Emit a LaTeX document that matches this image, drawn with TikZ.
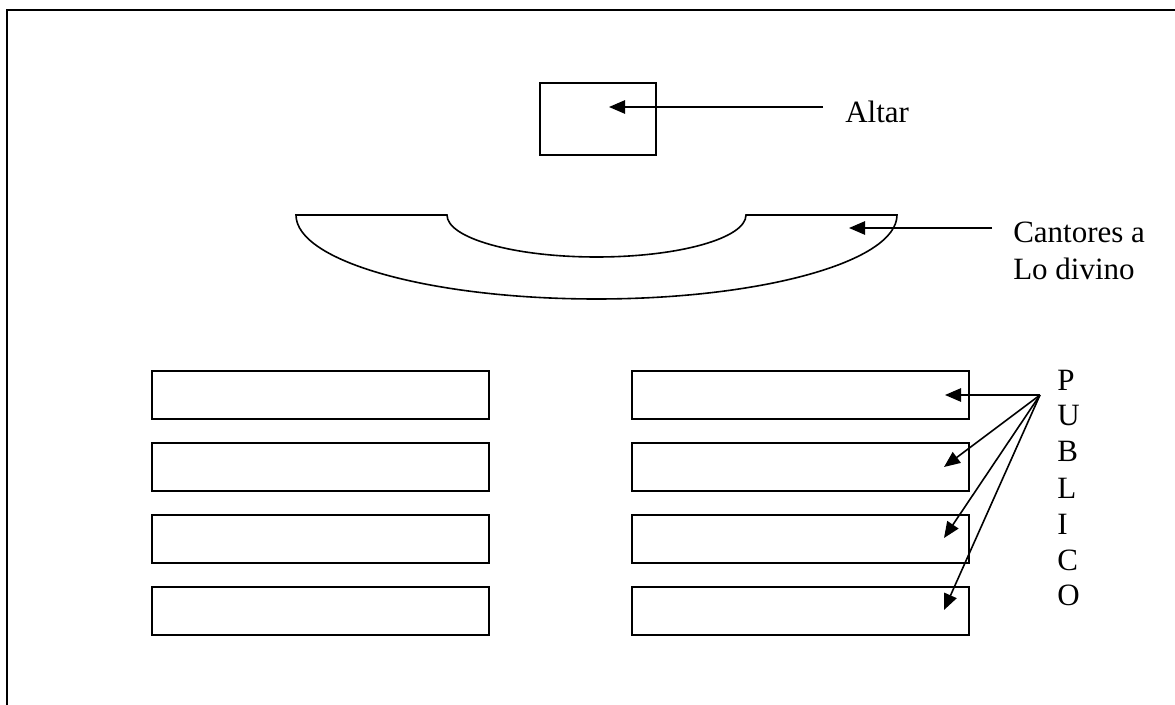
\documentclass[tikz,border=0pt]{standalone}
\usepackage{fontspec}
\setmainfont{Liberation Serif}
\usetikzlibrary{arrows.meta}
% one drawing unit = one pixel of the layout grid
\def\px{0.75pt}
\tikzset{
  frame/.style={line width=1.7pt},
  bench/.style={draw, line width=1.5pt, rectangle, inner sep=0pt,
                minimum width=337*\px, minimum height=48*\px},
  altarbox/.style={draw, line width=1.3pt, rectangle, inner sep=0pt,
                minimum width=116*\px, minimum height=72*\px},
  choir/.style={line width=1.2pt},
  arr/.style={line width=1.2pt, -{Triangle[length=12pt,width=10pt]}},
  lbl/.style={inner sep=0pt, font=\fontsize{23.25pt}{27.75pt}\selectfont},
  vlbl/.style={inner sep=0pt, font=\fontsize{23.25pt}{27pt}\selectfont},
}
\begin{document}
\begin{tikzpicture}[x=0.75pt,y=-0.75pt]
\useasboundingbox (0,0) rectangle (1175,705);
\fill[white] (0,0) rectangle (1175,705);

% outer frame (runs off the right and bottom edges)
\draw[frame] (7,705) -- (7,10) -- (1175,10);

% altar
\node[altarbox] (altar) at (598,119) {};
\coordinate (altartip) at (609,107);
\coordinate (altarsrc) at (823,107);
\node[lbl, anchor=base west] (altarlbl) at (845,123) {Altar};
\draw[arr] (altarsrc) -- (altartip);

% choir stand: flat top with a half-elliptic notch, half-elliptic underside
\draw[choir] (296,215) -- (447,215)
  arc[start angle=180, end angle=0, x radius=149.5, y radius=42]
  -- (897,215)
  arc[start angle=0, end angle=180, x radius=300.5, y radius=84]
  -- cycle;
\coordinate (choirtip) at (849,228);
\coordinate (choirsrc) at (992,228);
% base anchor of a multi-line node sits on its last line
\node[lbl, anchor=base west, align=left] (choirlbl) at (1013,280) {Cantores a\\Lo divino};
\draw[arr] (choirsrc) -- (choirtip);

% benches
\foreach \r/\yc in {1/395,2/467,3/539.5,4/611}{
  \node[bench] (L\r) at (320.5,\yc) {};
  \node[bench] (R\r) at (800.5,\yc) {};
}

% audience label and pointers
\node[vlbl, anchor=base west, align=left] (pub) at (1057,606) {P\\U\\B\\L\\I\\C\\O};
\coordinate (pubsrc) at (1040,395);
\coordinate (t1) at (945,395);
\coordinate (t2) at (944,467);
\coordinate (t3) at (944,538);
\coordinate (t4) at (944,610);
\foreach \t in {t1,t2,t3,t4}{
  \draw[arr] (pubsrc) -- (\t);
}
\end{tikzpicture}
\end{document}
